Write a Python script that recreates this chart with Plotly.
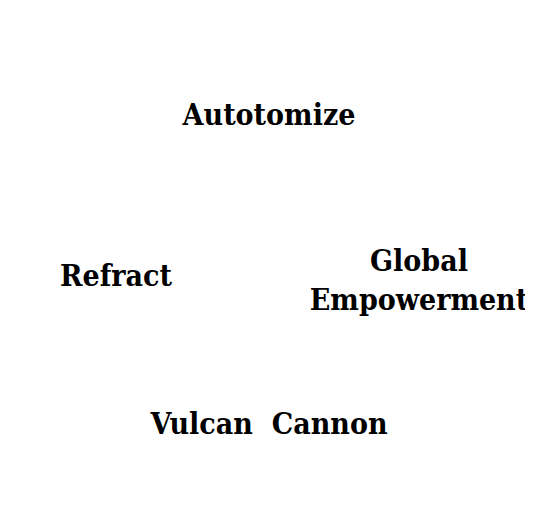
import plotly.graph_objects as go

# word labels shown on the chart
labels = ["Autotomize", "Refract", "Global<br>Empowerment", "Vulcan  Cannon"]

# where each label sits (pixel grid of the 533x532 page)
label_x = [261, 108, 411, 261]
label_y = [109, 270, 275, 418]

fig = go.Figure()
fig.add_trace(go.Scatter(
	x=label_x, y=label_y, mode="text", text=labels,
	textfont=dict(family="DejaVu Serif Condensed, DejaVu Serif, serif",
		size=30, color="black", weight="bold"),
	hoverinfo="skip"))

fig.update_layout(width=533, height=532, margin=dict(l=0, r=0, t=0, b=0),
	plot_bgcolor="white", paper_bgcolor="white", showlegend=False)
fig.update_xaxes(range=[0, 533], visible=False)
fig.update_yaxes(range=[532, 0], visible=False)
fig.write_html("out.html")
